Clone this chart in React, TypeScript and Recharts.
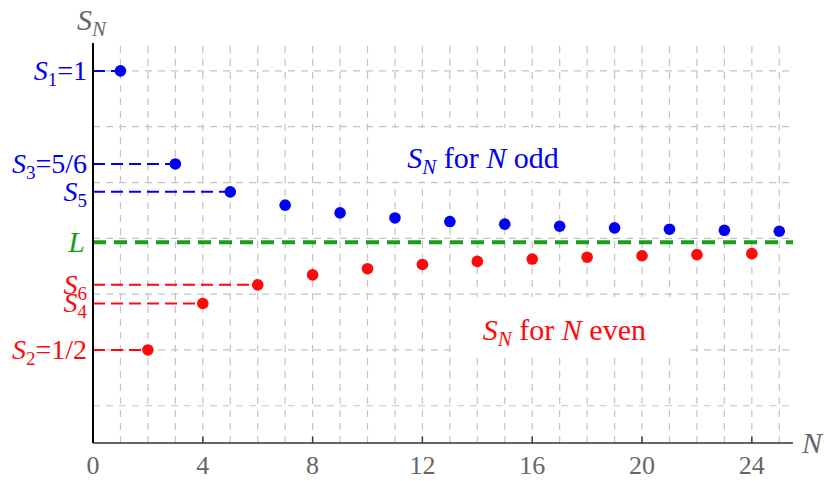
import { ComposedChart, Scatter, XAxis, YAxis, ReferenceLine, ReferenceDot } from 'recharts';

// partial sums of 1 - 1/2 + 1/3 - ...
const oddN = [1, 3, 5, 7, 9, 11, 13, 15, 17, 19, 21, 23, 25];
const oddS = [1, 0.8333, 0.7833, 0.7595, 0.7456, 0.7365, 0.7301, 0.7254, 0.7217, 0.7188, 0.7164, 0.7144, 0.7127];
const evenN = [2, 4, 6, 8, 10, 12, 14, 16, 18, 20, 22, 24];
const evenS = [0.5, 0.5833, 0.6167, 0.6345, 0.6456, 0.6532, 0.6587, 0.6629, 0.6661, 0.6688, 0.6709, 0.6727];
const limitL = 0.6931;

const xTicks = [0, 4, 8, 12, 16, 20, 24];
const xGrid = [1, 2, 3, 4, 5, 6, 7, 8, 9, 10, 11, 12, 13, 14, 15, 16, 17, 18, 19, 20, 21, 22, 23, 24, 25];
const yGrid = [0.4, 0.5, 0.6, 0.7, 0.8, 0.9, 1.0];

// which partial sums get a dashed guide + a label on the left
const markedN = [1, 3, 5, 6, 4, 2];
const markedText = ['=1', '=5/6', '', '', '', '=1/2'];

const BLUE = '#0000f5';
const RED = '#ff0a0a';
const GREEN = '#1a9e1a';
const GRID = '#c4c4c4';
const FONT = 'Liberation Serif';

const oddData = oddN.map((n, i) => ({ n, s: oddS[i] }));
const evenData = evenN.map((n, i) => ({ n, s: evenS[i] }));

const valueOf = (n: number) => (n % 2 ? oddS[oddN.indexOf(n)] : evenS[evenN.indexOf(n)]);

const Dot = (color: string) => (p: any) => <circle cx={p.cx} cy={p.cy} r={5.8} fill={color} />;

function Caption({ x, y, color, word }: any) {
  return (
    <text x={x} y={y} fill={color} fontSize={30} fontFamily={FONT}>
      <tspan fontStyle="italic">S</tspan>
      <tspan fontStyle="italic" fontSize={21} dy={6}>N</tspan>
      <tspan dy={-6}> for </tspan>
      <tspan fontStyle="italic">N</tspan>
      <tspan> {word}</tspan>
    </text>
  );
}

export default function App() {
  return (
    <div className="sn-chart" style={{ position: 'absolute', left: 0, top: 0, background: '#fff' }}>
      <style>{`.sn-chart svg text, .sn-chart svg tspan { font-family: "Liberation Serif", "Times New Roman", serif !important; }`}</style>
      <ComposedChart width={825} height={481} margin={{ top: 43, right: 32, left: 0, bottom: 0 }}>
        <XAxis
          type="number"
          dataKey="n"
          domain={[0, 25.5]}
          ticks={xTicks}
          allowDataOverflow
          height={38}
          tickLine={false}
          tickMargin={7}
          axisLine={{ stroke: '#333', strokeWidth: 1.6 }}
          tick={{ fill: '#666', fontSize: 26, fontFamily: FONT }}
          label={{
            content: (p: any) => (
              <text x={p.viewBox.x + p.viewBox.width + 9} y={p.viewBox.y + 10} fill="#666" fontSize={30} fontStyle="italic" fontFamily={FONT}>
                N
              </text>
            ),
          }}
        />
        <YAxis
          type="number"
          dataKey="s"
          domain={[0.3333, 1.05]}
          allowDataOverflow
          width={93}
          tick={false}
          tickLine={false}
          axisLine={{ stroke: '#000', strokeWidth: 2 }}
          label={{
            content: (p: any) => (
              <text x={p.viewBox.x + p.viewBox.width - 16} y={p.viewBox.y - 13} fill="#666" fontSize={30} fontFamily={FONT}>
                <tspan fontStyle="italic">S</tspan>
                <tspan fontStyle="italic" fontSize={21} dy={6}>N</tspan>
              </text>
            ),
          }}
        />

        {xGrid.map((v) => (
          <ReferenceLine key={'gx' + v} x={v} stroke={GRID} strokeWidth={1.2} strokeDasharray="7 6" />
        ))}
        {yGrid.map((v) => (
          <ReferenceLine key={'gy' + v} y={v} stroke={GRID} strokeWidth={1.2} strokeDasharray="7 6" />
        ))}
        {xTicks.slice(1).map((v) => (
          <ReferenceLine key={'tk' + v} segment={[{ x: v, y: 0.3333 }, { x: v, y: 0.345 }]} stroke="#333" strokeWidth={1.4} />
        ))}

        {/* white boxes behind the two captions */}
        <ReferenceDot
          x={11.45}
          y={0.826}
          r={0}
          fill="none"
          stroke="none"
          label={{
            content: (p: any) => (
              <g>
                <rect x={p.viewBox.x - 22} y={p.viewBox.y - 40} width={225} height={53} fill="#fff" />
                <Caption x={p.viewBox.x} y={p.viewBox.y} color={BLUE} word="odd" />
              </g>
            ),
          }}
        />
        <ReferenceDot
          x={14.2}
          y={0.518}
          r={0}
          fill="none"
          stroke="none"
          label={{
            content: (p: any) => (
              <g>
                <rect x={p.viewBox.x - 28} y={p.viewBox.y - 43} width={235} height={55} fill="#fff" />
                <Caption x={p.viewBox.x} y={p.viewBox.y} color={RED} word="even" />
              </g>
            ),
          }}
        />

        <ReferenceLine
          y={limitL}
          stroke={GREEN}
          strokeWidth={4}
          strokeDasharray="13 8"
          label={{
            content: (p: any) => (
              <text x={p.viewBox.x - 8} y={p.viewBox.y + 10} fill={GREEN} fontSize={30} fontStyle="italic" textAnchor="end" fontFamily={FONT}>
                L
              </text>
            ),
          }}
        />

        {markedN.map((n, i) => {
          const color = n % 2 ? BLUE : RED;
          const v = valueOf(n);
          return (
            <ReferenceLine
              key={'m' + n}
              segment={[{ x: 0, y: v }, { x: n, y: v }]}
              stroke={color}
              strokeWidth={2}
              strokeDasharray="12 6"
              label={{
                content: (p: any) => (
                  <text x={p.viewBox.x - 6} y={p.viewBox.y + 9} fill={color} fontSize={28} textAnchor="end" fontFamily={FONT}>
                    <tspan fontStyle="italic">S</tspan>
                    <tspan fontSize={19} dy={6}>{n}</tspan>
                    <tspan dy={-6}>{markedText[i]}</tspan>
                  </text>
                ),
              }}
            />
          );
        })}

        <Scatter data={oddData} dataKey="s" shape={Dot(BLUE)} isAnimationActive={false} />
        <Scatter data={evenData} dataKey="s" shape={Dot(RED)} isAnimationActive={false} />
      </ComposedChart>
    </div>
  );
}
